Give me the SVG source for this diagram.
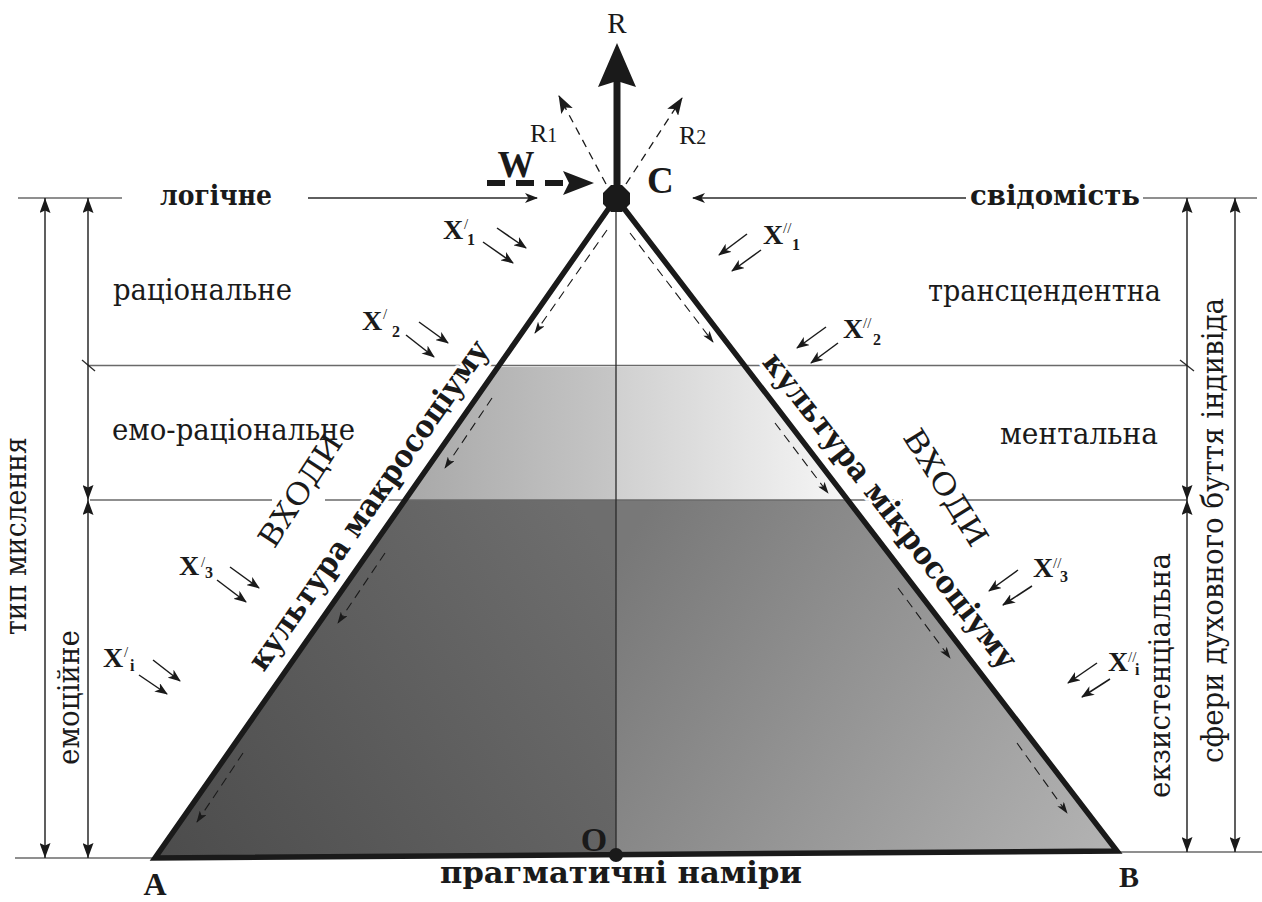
<svg xmlns="http://www.w3.org/2000/svg" width="1262" height="902" viewBox="0 0 1262 902">
<style>
.t{font-family:"Liberation Serif","DejaVu Serif",serif;fill:#1a1a1a}
.c{font-family:"DejaVu Serif","Liberation Serif","Noto Serif",serif;fill:#1a1a1a}
.b{font-weight:bold}
.thin{stroke:#2a2a2a;stroke-width:1.3;fill:none}
.guide{stroke:#6a6a6a;stroke-width:1.6;fill:none}
.dim{stroke:#1a1a1a;stroke-width:1.4;fill:none;marker-start:url(#dh);marker-end:url(#dh)}
.xa{stroke:#1a1a1a;stroke-width:1.5;fill:none;marker-end:url(#ah)}
.da{stroke:#1a1a1a;stroke-width:1.1;stroke-dasharray:9 6;fill:none;marker-end:url(#sh)}
.halo{stroke:#fff;stroke-width:6;paint-order:stroke;stroke-linejoin:round}
.sup{font-size:15px;font-weight:normal}
.sub{font-size:16px}
</style>
<defs>
  <linearGradient id="gUL" gradientUnits="userSpaceOnUse" x1="405" y1="0" x2="616" y2="0">
    <stop offset="0" stop-color="#a8a8a8"/><stop offset="1" stop-color="#c6c6c6"/>
  </linearGradient>
  <linearGradient id="gUR" gradientUnits="userSpaceOnUse" x1="616" y1="0" x2="848" y2="0">
    <stop offset="0" stop-color="#d0d0d0"/><stop offset="1" stop-color="#f6f6f6"/>
  </linearGradient>
  <linearGradient id="gLL" gradientUnits="userSpaceOnUse" x1="160" y1="858" x2="616" y2="560">
    <stop offset="0" stop-color="#4c4c4c"/><stop offset="1" stop-color="#6e6e6e"/>
  </linearGradient>
  <linearGradient id="gLR" gradientUnits="userSpaceOnUse" x1="616" y1="560" x2="1100" y2="851">
    <stop offset="0" stop-color="#787878"/><stop offset="1" stop-color="#b2b2b2"/>
  </linearGradient>
  <marker id="ah" viewBox="0 0 13 10" refX="12" refY="5" markerWidth="13" markerHeight="10" markerUnits="userSpaceOnUse" orient="auto">
    <path d="M0,0 L13,5 L0,10 L3.5,5 Z" fill="#1a1a1a"/>
  </marker>
  <marker id="sh" viewBox="0 0 12 8" refX="11" refY="4" markerWidth="12" markerHeight="8" markerUnits="userSpaceOnUse" orient="auto">
    <path d="M0,0 L12,4 L0,8 L3,4 Z" fill="#1a1a1a"/>
  </marker>
  <marker id="rh" viewBox="0 0 18 13" refX="17" refY="6.5" markerWidth="18" markerHeight="13" markerUnits="userSpaceOnUse" orient="auto">
    <path d="M0,0 L18,6.5 L0,13 L4,6.5 Z" fill="#1a1a1a"/>
  </marker>
  <marker id="dh" viewBox="0 0 15 11" refX="15" refY="5.5" markerWidth="15" markerHeight="11" markerUnits="userSpaceOnUse" orient="auto-start-reverse">
    <path d="M0,0 L15,5.5 L0,11 L2.5,5.5 Z" fill="#1a1a1a"/>
  </marker>
</defs>
<rect width="1262" height="902" fill="#fff"/>

<g id="pyramid-fill">
  <polygon points="498,367 616,367 616,500 405,500" fill="url(#gUL)"/>
  <polygon points="616,367 746,367 848,500 616,500" fill="url(#gUR)"/>
  <polygon points="405,500 616,500 616,855 155,858" fill="url(#gLL)"/>
  <polygon points="616,500 848,500 1117,851 616,855" fill="url(#gLR)"/>
</g>

<g id="guides">
  <line class="guide" x1="18" y1="198" x2="122" y2="198"/>
  <line class="guide" x1="1143" y1="198" x2="1257" y2="198"/>
  <line class="guide" x1="88" y1="365.5" x2="1187" y2="365.5"/>
  <line class="guide" x1="90" y1="500" x2="272" y2="500"/>
  <line class="guide" x1="325" y1="500" x2="903" y2="500"/>
  <line class="guide" x1="963" y1="500" x2="1187" y2="500"/>
  <line class="guide" x1="15" y1="858" x2="155" y2="858"/>
  <line class="guide" x1="1117" y1="852" x2="1262" y2="852"/>
  <line class="thin" x1="616" y1="198" x2="616" y2="855"/>
  <line class="thin" x1="82" y1="360" x2="95" y2="371"/>
  <line class="thin" x1="1180" y1="360" x2="1194" y2="371"/>
</g>

<g id="dimensions">
  <line class="dim" x1="45" y1="198" x2="45" y2="858"/>
  <line class="dim" x1="88" y1="198" x2="88" y2="500"/>
  <line class="dim" x1="88" y1="500" x2="88" y2="858"/>
  <line class="dim" x1="1187" y1="198" x2="1187" y2="500"/>
  <line class="dim" x1="1187" y1="500" x2="1187" y2="852"/>
  <line class="dim" x1="1235" y1="198" x2="1235" y2="852"/>
</g>

<g id="side-labels">
  <text class="c" font-size="30" text-anchor="middle" textLength="128" lengthAdjust="spacingAndGlyphs" transform="translate(309,496) rotate(-57)">ВХОДИ</text>
  <text class="c" font-size="30" text-anchor="middle" textLength="132" lengthAdjust="spacingAndGlyphs" transform="translate(937,493) rotate(58)">ВХОДИ</text>
  <text class="c" x="113" y="300" font-size="30" textLength="179" lengthAdjust="spacingAndGlyphs">раціональне</text>
  <text class="c" x="112" y="440" font-size="30" textLength="243" lengthAdjust="spacingAndGlyphs">емо-раціональне</text>
  <text class="c" x="928" y="301" font-size="30" textLength="233" lengthAdjust="spacingAndGlyphs">трансцендентна</text>
  <text class="c" x="1000" y="444" font-size="30" textLength="158" lengthAdjust="spacingAndGlyphs">ментальна</text>
  <text class="c" font-size="30" text-anchor="middle" textLength="198" lengthAdjust="spacingAndGlyphs" transform="translate(26,536) rotate(-90)">тип мислення</text>
  <text class="c" font-size="30" text-anchor="middle" textLength="135" lengthAdjust="spacingAndGlyphs" transform="translate(79,697.5) rotate(-90)">емоційне</text>
  <text class="c" font-size="30" text-anchor="middle" textLength="245" lengthAdjust="spacingAndGlyphs" transform="translate(1170,675.5) rotate(-90)">екзистенціальна</text>
  <text class="c" font-size="30" text-anchor="middle" textLength="465" lengthAdjust="spacingAndGlyphs" transform="translate(1223,530.5) rotate(-90)">сфери духовного буття індивіда</text>
  <text class="c b halo" font-size="31" text-anchor="middle" textLength="395" lengthAdjust="spacingAndGlyphs" transform="translate(377,511) rotate(-55)">культура макросоціуму</text>
  <text class="c b halo" font-size="31" text-anchor="middle" textLength="392" lengthAdjust="spacingAndGlyphs" transform="translate(882,517) rotate(52)">культура мікросоціуму</text>
</g>

<g id="pyramid-edges">
  <polygon points="616,198 155,858 1117,851" fill="none" stroke="#1a1a1a" stroke-width="5.5" stroke-linejoin="miter"/>
</g>

<g id="connectors">
  <line class="thin" x1="308" y1="198" x2="537" y2="198" marker-end="url(#ah)"/>
  <line class="thin" x1="966" y1="198" x2="693" y2="198" marker-end="url(#ah)"/>
  <line class="da" x1="607" y1="230" x2="535" y2="333"/>
  <line class="da" x1="492" y1="398" x2="445" y2="468"/>
  <line class="da" x1="385" y1="553" x2="338" y2="623"/>
  <line class="da" x1="243" y1="753" x2="197" y2="822"/>
  <line class="da" x1="630" y1="233" x2="713" y2="342"/>
  <line class="da" x1="775" y1="423" x2="828" y2="493"/>
  <line class="da" x1="898" y1="588" x2="950" y2="658"/>
  <line class="da" x1="1017" y1="743" x2="1067" y2="813"/>
  <line class="xa" x1="497" y1="228" x2="526" y2="248"/>
  <line class="xa" x1="483" y1="242" x2="513" y2="263"/>
  <line class="xa" x1="419" y1="322" x2="448" y2="343"/>
  <line class="xa" x1="406" y1="335" x2="434" y2="357"/>
  <line class="xa" x1="230" y1="567" x2="259" y2="588"/>
  <line class="xa" x1="217" y1="580" x2="246" y2="602"/>
  <line class="xa" x1="153" y1="660" x2="180" y2="681"/>
  <line class="xa" x1="139" y1="675" x2="167" y2="694"/>
  <line class="xa" x1="747" y1="234" x2="719" y2="255"/>
  <line class="xa" x1="761" y1="250" x2="732" y2="271"/>
  <line class="xa" x1="826" y1="327" x2="797" y2="348"/>
  <line class="xa" x1="838" y1="343" x2="811" y2="363"/>
  <line class="xa" x1="1018" y1="570" x2="989" y2="591"/>
  <line class="xa" x1="1032" y1="586" x2="1003" y2="605"/>
  <line class="xa" x1="1097" y1="663" x2="1068" y2="683"/>
  <line class="xa" x1="1110" y1="679" x2="1082" y2="697"/>
  <line x1="606" y1="184" x2="559" y2="96" stroke="#1a1a1a" stroke-width="1.3" stroke-dasharray="8 6" marker-end="url(#rh)"/>
  <line x1="626" y1="184" x2="682" y2="98" stroke="#1a1a1a" stroke-width="1.3" stroke-dasharray="8 6" marker-end="url(#rh)"/>
  <line x1="617" y1="198" x2="617" y2="80" stroke="#1a1a1a" stroke-width="7"/>
  <polygon points="617,43 636,87 617,81 598,87" fill="#1a1a1a"/>
  <line x1="487" y1="183" x2="563" y2="183" stroke="#1a1a1a" stroke-width="6" stroke-dasharray="18 11"/>
  <polygon points="594,183 563,171 569,183 563,195" fill="#1a1a1a"/>
</g>

<g id="node-C">
  <polygon points="611,185 622,185 630,193 630,204 622,212 611,212 603,204 603,193" fill="#1a1a1a"/>
  <text class="t b" x="647" y="193" font-size="37">C</text>
</g>
<g id="node-O">
  <circle cx="616" cy="855" r="7" fill="#1a1a1a"/>
  <text class="t b" x="594" y="851" font-size="34" text-anchor="middle">O</text>
</g>
<g id="node-A"><text class="t b" x="155" y="895" font-size="32" text-anchor="middle">A</text></g>
<g id="node-B"><text class="t b" x="1129" y="887" font-size="30" text-anchor="middle">B</text></g>
<g id="node-R"><text class="t" x="617" y="33" font-size="29" text-anchor="middle">R</text></g>
<g id="node-R1"><text class="t" x="530" y="142" font-size="26">R<tspan font-size="20">1</tspan></text></g>
<g id="node-R2"><text class="t" x="679" y="144" font-size="26">R<tspan font-size="20">2</tspan></text></g>
<g id="node-W"><text class="t b" x="516" y="177" font-size="37" text-anchor="middle">W</text></g>

<g id="top-labels">
  <text class="c b" x="160" y="205" font-size="28" textLength="112" lengthAdjust="spacingAndGlyphs">логічне</text>
  <text class="c b" x="970" y="205" font-size="28" textLength="170" lengthAdjust="spacingAndGlyphs">свідомість</text>
  <text class="c b" x="440" y="883" font-size="30" textLength="362" lengthAdjust="spacingAndGlyphs">прагматичні наміри</text>
</g>

<g id="x-labels" class="t b" font-size="28">
  <text x="443" y="239">X</text><text class="sup" x="464" y="229">/</text><text class="sub" x="467" y="245">1</text>
  <text x="362" y="330">X</text><text class="sup" x="383" y="319">/</text><text class="sub" x="392" y="337">2</text>
  <text x="179" y="575">X</text><text class="sup" x="201" y="567">/</text><text class="sub" x="205" y="578">3</text>
  <text x="103" y="667">X</text><text class="sup" x="124" y="657">/</text><text class="sub" x="130" y="671">i</text>
  <text x="763" y="244">X</text><text class="sup" x="783" y="233">//</text><text class="sub" x="792" y="250">1</text>
  <text x="843" y="338">X</text><text class="sup" x="863" y="328">//</text><text class="sub" x="873" y="345">2</text>
  <text x="1033" y="577">X</text><text class="sup" x="1053" y="568">//</text><text class="sub" x="1060" y="582">3</text>
  <text x="1108" y="671">X</text><text class="sup" x="1128" y="662">//</text><text class="sub" x="1135" y="675">i</text>
</g>
</svg>
